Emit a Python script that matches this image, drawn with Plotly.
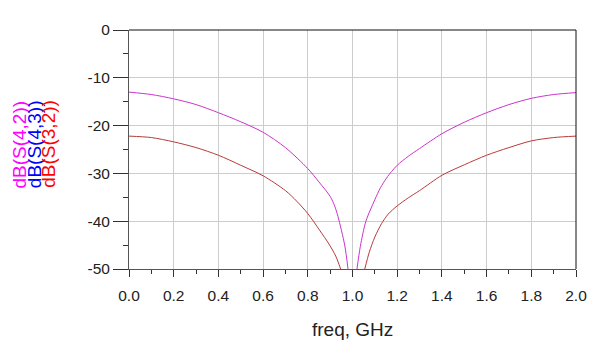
import plotly.graph_objects as go

# ---- data ----
freq_s42_lo = [0.0, 0.1, 0.2, 0.3, 0.4, 0.5, 0.6, 0.7, 0.8, 0.85, 0.9, 0.92, 0.935, 0.965, 0.98]
s42_lo = [-13.0, -13.5, -14.4, -15.6, -17.3, -19.2, -21.4, -24.6, -29.0, -31.8, -34.8, -36.8, -39.0, -45.0, -50.0]
freq_s42_hi = [1.02, 1.035, 1.06, 1.1, 1.125, 1.152, 1.175, 1.2, 1.25, 1.3, 1.4, 1.5, 1.6, 1.7, 1.8, 1.9, 2.0]
s42_hi = [-50.0, -45.3, -40.0, -35.5, -33.0, -31.0, -29.6, -28.3, -26.4, -24.8, -21.7, -19.3, -17.3, -15.6, -14.3, -13.5, -13.1]

freq_s32_lo = [0.0, 0.1, 0.2, 0.3, 0.4, 0.5, 0.6, 0.7, 0.75, 0.8, 0.853, 0.895, 0.925, 0.947]
s32_lo = [-22.2, -22.5, -23.4, -24.6, -26.2, -28.3, -30.5, -33.6, -35.8, -38.4, -41.9, -44.8, -47.3, -50.0]
freq_s32_hi = [1.055, 1.075, 1.1, 1.13, 1.16, 1.2, 1.25, 1.3, 1.4, 1.5, 1.6, 1.7, 1.8, 1.9, 2.0]
s32_hi = [-50.0, -46.5, -43.3, -40.5, -38.5, -36.8, -35.1, -33.6, -30.4, -28.2, -26.2, -24.6, -23.2, -22.5, -22.2]

x_ticks = [0.0, 0.2, 0.4, 0.6, 0.8, 1.0, 1.2, 1.4, 1.6, 1.8, 2.0]
x_tick_text = ["0.0", "0.2", "0.4", "0.6", "0.8", "1.0", "1.2", "1.4", "1.6", "1.8", "2.0"]
y_ticks = [0, -10, -20, -30, -40, -50]
y_tick_text = ["0", "-10", "-20", "-30", "-40", "-50"]

legend_labels = ["dB(S(4,2))", "dB(S(4,3))", "dB(S(3,2))"]
legend_colors = ["#ff00ff", "#0000ff", "#ff0000"]

FONT = "Liberation Sans, Arial, sans-serif"
MAG_LINE = "#cc33cc"
RED_LINE = "#b83a3a"

# page body has an 8px margin, so the figure is laid out in local coordinates
W, H = 592, 346
L, T = 121, 21.5
plot_right, plot_bottom = 568, 261
R, B = W - plot_right, H - plot_bottom
pw, ph = plot_right - L, plot_bottom - T

fig = go.Figure()
fig.add_trace(go.Scatter(x=freq_s42_lo + [None] + freq_s42_hi,
                         y=s42_lo + [None] + s42_hi,
                         mode="lines", line=dict(color=MAG_LINE, width=1, shape="spline", smoothing=0.8),
                         connectgaps=False, showlegend=False))
fig.add_trace(go.Scatter(x=freq_s32_lo + [None] + freq_s32_hi,
                         y=s32_lo + [None] + s32_hi,
                         mode="lines", line=dict(color=RED_LINE, width=1, shape="spline", smoothing=0.8),
                         connectgaps=False, showlegend=False))

for i, (lab, col) in enumerate(zip(legend_labels, legend_colors)):
    px = 11.3 + i * 14.6
    fig.add_annotation(text=lab, xref="paper", yref="paper",
                       x=(px - L) / pw, y=(plot_bottom - 136) / ph,
                       xanchor="center", yanchor="middle", textangle=-90,
                       showarrow=False, font=dict(family=FONT, size=19, color=col))

fig.add_annotation(text="freq, GHz", xref="paper", yref="paper",
                   x=0.5, y=-(322 - plot_bottom) / ph, xanchor="center", yanchor="middle",
                   showarrow=False, font=dict(family=FONT, size=19, color="#222222"))

fig.update_layout(
    width=W, height=H,
    margin=dict(l=L, r=R, t=T, b=B, autoexpand=False),
    paper_bgcolor="white", plot_bgcolor="white",
    font=dict(family=FONT, size=15.5, color="#222222"),
    xaxis=dict(range=[0, 2], tickvals=x_ticks, ticktext=x_tick_text,
               showgrid=True, gridcolor="#cccccc", gridwidth=1,
               showline=True, linecolor="#555555", linewidth=1, mirror=False,
               ticks="outside", ticklen=7, tickcolor="#333333",
               ticklabelstandoff=5, zeroline=False,
               minor=dict(dtick=0.1, ticks="outside", ticklen=4, tickcolor="#333333", showgrid=False)),
    yaxis=dict(range=[-50, 0], tickvals=y_ticks, ticktext=y_tick_text,
               showgrid=True, gridcolor="#cccccc", gridwidth=1,
               showline=True, linecolor="#555555", linewidth=1, mirror=False,
               ticks="outside", ticklen=15, tickcolor="#333333",
               zeroline=False,
               minor=dict(dtick=5, ticks="outside", ticklen=5, tickcolor="#333333", showgrid=False)),
    shapes=[
        dict(type="line", xref="paper", yref="paper", x0=0, x1=1, y0=1, y1=1,
             line=dict(color="#111111", width=1)),
        dict(type="line", xref="paper", yref="paper", x0=1, x1=1, y0=0, y1=1,
             line=dict(color="#111111", width=1)),
    ],
)

fig.write_html("out.html")
